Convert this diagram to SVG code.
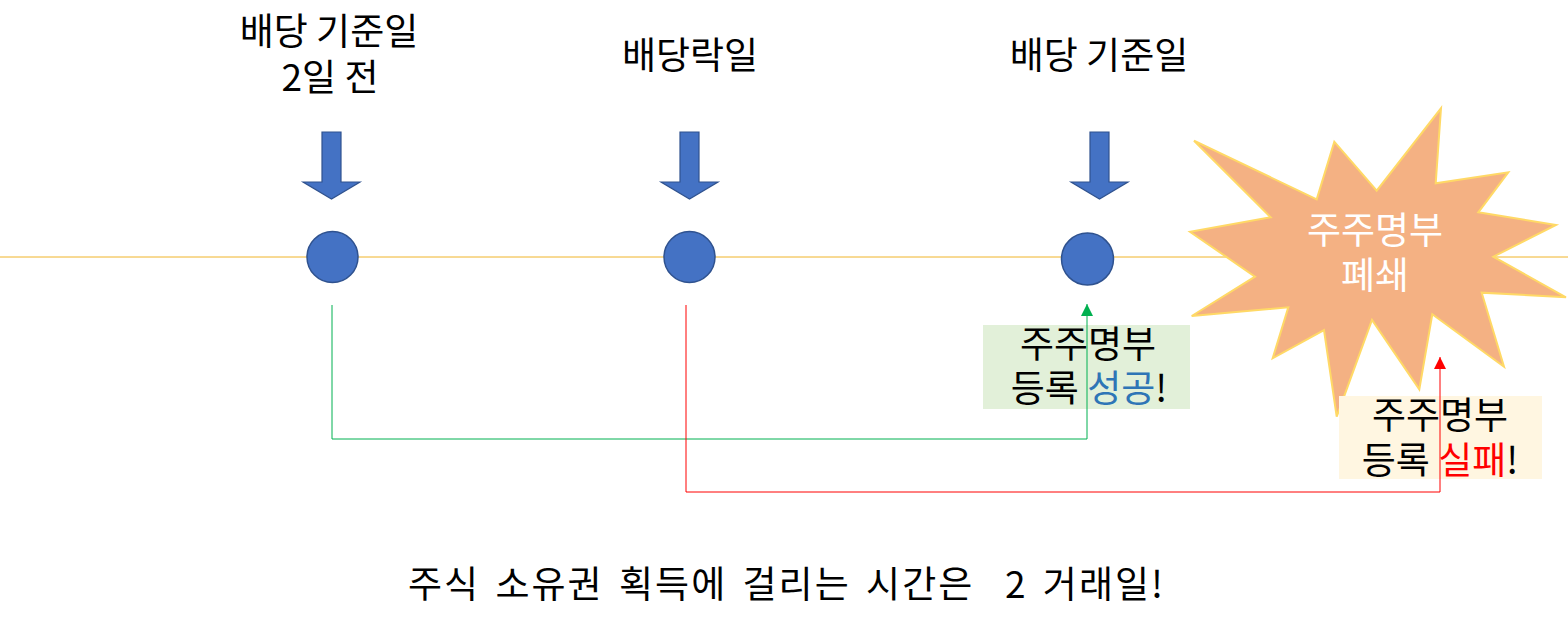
<svg xmlns="http://www.w3.org/2000/svg" width="1568" height="631" viewBox="0 0 1568 631">
<style>
text{font-family:"Noto Sans CJK KR","Noto Sans",sans-serif;font-size:37px;fill:#000;text-anchor:middle}
.dot{fill:#4472C4;stroke:#2F528F;stroke-width:1.5}
.arr{fill:#4472C4;stroke:#2F528F;stroke-width:1.2}
.w{fill:#fff}
</style>
<defs>
<marker id="mg" viewBox="0 0 12 12" refX="12" refY="6" markerWidth="12" markerHeight="12" markerUnits="userSpaceOnUse" orient="auto"><path d="M0,0L12,6L0,12z" fill="#00B050"/></marker>
<marker id="mr" viewBox="0 0 12 12" refX="12" refY="6" markerWidth="12" markerHeight="12" markerUnits="userSpaceOnUse" orient="auto"><path d="M0,0L12,6L0,12z" fill="#FF0000"/></marker>
</defs>
<rect width="1568" height="631" fill="#fff"/>
<line x1="0" y1="257" x2="1568" y2="257" stroke="#F0B429" stroke-width="1"/>
<g id="title1"><text x="329" y="45">배당 기준일</text><text x="330" y="91">2일 전</text></g>
<g id="title2"><text x="690" y="69">배당락일</text></g>
<g id="title3"><text x="1099" y="69">배당 기준일</text></g>
<g id="arrow1"><path class="arr" d="M322,132H341V182H360L331.5,199L303,182H322Z"/></g>
<g id="arrow2"><path class="arr" d="M680,132H699V182H718L689.5,199L661,182H680Z"/></g>
<g id="arrow3"><path class="arr" d="M1090,132H1109V182H1128L1099.5,199L1071,182H1090Z"/></g>
<g id="dot1"><circle class="dot" cx="332.5" cy="257" r="25.5"/></g>
<g id="dot2"><circle class="dot" cx="689.5" cy="257" r="25.5"/></g>
<g id="dot3"><circle class="dot" cx="1087.5" cy="259" r="26"/></g>
<g id="star">
<polygon points="1194,140.7 1316.7,199.3 1334.3,141.7 1376.7,190.7 1441,108.3 1435.7,183.3 1508.3,172.3 1478.3,212.3 1556,225 1493.3,256.7 1566,297.3 1481.7,292.7 1504,366.7 1432.3,314.3 1419.3,389.3 1372,320 1336.7,416.7 1324,330 1272.7,358.3 1288.3,307.3 1191.7,316 1255,276.7 1190,231.7 1270.7,217.3" fill="#F4B183" stroke="#FFD966" stroke-width="2"/>
<text class="w" x="1375" y="244">주주명부</text>
<text class="w" x="1375" y="289">폐쇄</text>
</g>
<g id="success">
<rect x="983" y="325" width="207" height="84" fill="#E2F0D9"/>
<text x="1088" y="358">주주명부</text>
<text x="1089" y="402">등록 <tspan fill="#2E75B6">성공</tspan>!</text>
</g>
<g id="fail">
<rect x="1339" y="396" width="203" height="83" fill="#FFF6E1"/>
<text x="1440" y="429">주주명부</text>
<text x="1440" y="474">등록 <tspan fill="#FF0000">실패</tspan>!</text>
</g>
<g id="connectors" fill="none" stroke-width="1">
<path d="M332,305V439H1087V304" stroke="#00B050" marker-end="url(#mg)"/>
<path d="M686,305V492H1440V357" stroke="#FF0000" marker-end="url(#mr)"/>
</g>
<g id="caption"><text x="408" y="598" textLength="755" lengthAdjust="spacing" style="text-anchor:start;white-space:pre;word-spacing:5px">주식 소유권 획득에 걸리는 시간은  2 거래일!</text></g>
</svg>
